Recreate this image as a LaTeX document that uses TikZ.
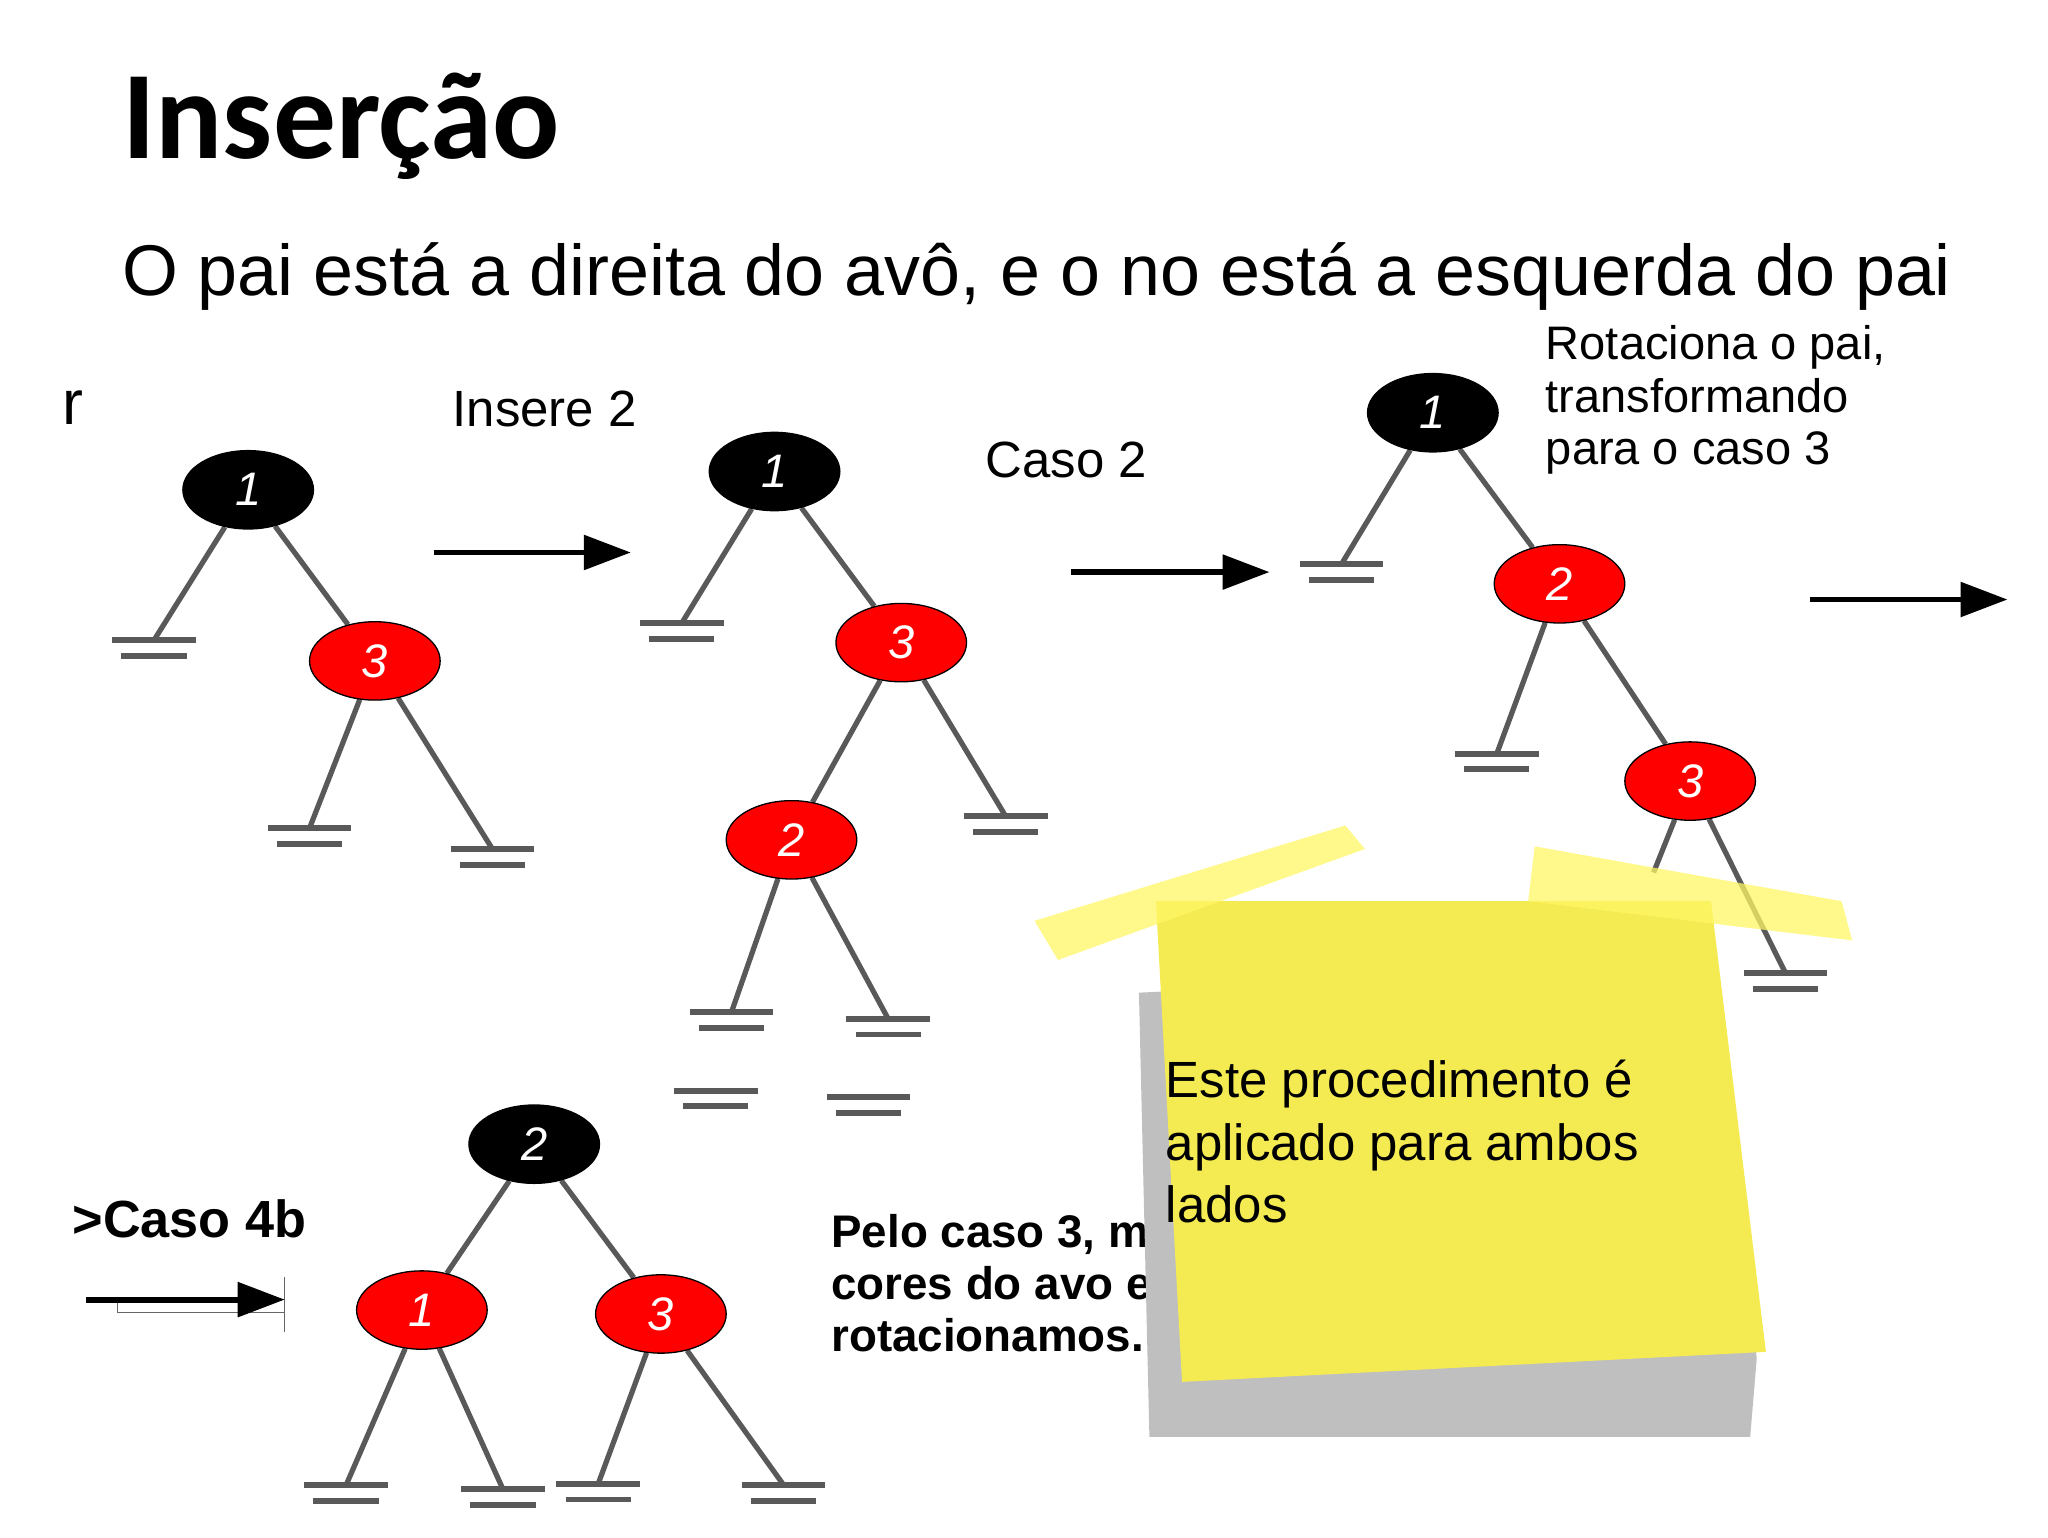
\documentclass[tikz,border=0pt]{standalone}
\usepackage{fontspec}
\setmainfont{Liberation Sans}
\newfontfamily\carl{Carlito}
\usetikzlibrary{shapes.geometric,arrows.meta,calc,backgrounds}
\tikzset{
 rb/.style={ellipse,draw=black,line width=1pt,minimum width=100pt,minimum height=60pt,inner sep=0pt,font=\fontsize{36}{36}\selectfont\itshape,text=white},
 blk/.style={rb,fill=black},
 red/.style={rb,fill=red},
 ed/.style={draw=black!65,line width=4pt},
 bar/.style={draw=black!65,line width=4.5pt},
 big/.style={line width=4.5pt,-{Triangle[length=36pt,width=26pt]}},
 lbl/.style={anchor=west,font=\fontsize{39}{40}\selectfont,align=left}
}
\newcommand{\gnd}[2]{\coordinate (#1) at #2;
 \draw[bar] ($(#1)+(-32,0)$) -- ($(#1)+(32,0)$);
 \draw[bar] ($(#1)+(-25,12)$) -- ($(#1)+(25,12)$);}
\begin{document}
\begin{tikzpicture}[x=1pt,y=-1pt]
\useasboundingbox (0,0) rectangle (1568,1177);
\node[anchor=west,font=\carl\bfseries\fontsize{96}{96}\selectfont] (t) at (90,97) {Inserção};
\node[anchor=west,font=\fontsize{55}{55}\selectfont] (st) at (90,212) {O pai está a direita do avô, e o no está a esquerda do pai};
\node[lbl,font=\fontsize{48}{48}\selectfont] (r) at (44,312) {r};
\node[lbl] (ins) at (343,313) {Insere 2};
\node[lbl] (c2) at (751,352) {Caso 2};
\node[lbl,anchor=north west,font=\fontsize{36}{40}\selectfont] (rot) at (1180,246) {Rotaciona o pai,\\transformando\\para o caso 3};
\node[lbl,font=\bfseries\fontsize{40}{40}\selectfont] (c4) at (52,933) {>Caso 4b};
\node[lbl,anchor=north west,font=\bfseries\fontsize{35}{40}\selectfont] (pelo) at (633,926) {Pelo caso 3, m\\cores do avo e\\rotacionamos.};
% nodes
\node[blk] (n11) at (190,375) {1}; \node[red] (n13) at (287,506) {3};
\node[blk] (n21) at (593,361) {1}; \node[red] (n23) at (690,492) {3}; \node[red] (n22) at (606,643) {2};
\node[blk] (n31) at (1097,316) {1}; \node[red] (n32) at (1194,447) {2}; \node[red] (n33) at (1294,598) {3};
\node[blk] (n42) at (409,876) {2}; \node[red] (n41) at (323,1003) {1}; \node[red] (n43) at (506,1006) {3};
\begin{scope}[on background layer]
% tree 1
\gnd{a1}{(118,490)} \gnd{a2}{(237,634)} \gnd{a3}{(377,650)}
\draw[ed] (n11) -- (a1); \draw[ed] (n11) -- (n13);
\draw[ed] (n13) -- (a2); \draw[ed] (n13) -- (a3);
% tree 2
\gnd{b1}{(522,477)} \gnd{b2}{(770,625)} \gnd{b3}{(560,775)} \gnd{b4}{(680,780)}
\gnd{b5}{(548,835)} \gnd{b6}{(665,840)}
\draw[ed] (n21) -- (b1); \draw[ed] (n21) -- (n23);
\draw[ed] (n23) -- (b2); \draw[ed] (n23) -- (n22);
\draw[ed] (n22) -- (b3); \draw[ed] (n22) -- (b4);
% tree 3
\gnd{c1}{(1027,432)} \gnd{c2}{(1146,577)} \gnd{c3}{(1367,745)}
\draw[ed] (n31) -- (c1); \draw[ed] (n31) -- (n32);
\draw[ed] (n32) -- (c2); \draw[ed] (n32) -- (n33);
\draw[ed] (n33) -- (c3);
% tree 4
\gnd{d1}{(265,1137)} \gnd{d2}{(385,1140)} \gnd{d3}{(458,1136)} \gnd{d4}{(600,1137)}
\draw[ed] (n42) -- (n41); \draw[ed] (n42) -- (n43);
\draw[ed] (n41) -- (d1); \draw[ed] (n41) -- (d2);
\draw[ed] (n43) -- (d3); \draw[ed] (n43) -- (d4);
\end{scope}
\coordinate (c3l) at (1266,668);
\draw[ed] (n33) -- (c3l);
% arrows
\coordinate (p1) at (332,423); \coordinate (q1) at (483,423);
\coordinate (p2) at (820,438); \coordinate (q2) at (972,438);
\coordinate (p3) at (1386,459); \coordinate (q3) at (1537,459);
\coordinate (p4) at (66,995); \coordinate (q4) at (218,995);
\draw[big] (p1) -- (q1); \draw[big] (p2) -- (q2); \draw[big] (p3) -- (q3);
\draw[black!60,line width=1pt] (90,995) rectangle (218,1005);
\draw[black!60,line width=1pt] (218,978) -- (218,1020);
\draw[big] (p4) -- (q4);
% sticky note
\fill[black!25] (872,760) -- (880,1100) -- (1340,1100) -- (1345,1040) -- (1310,740) -- cycle;
\fill[yellow!70!white!95!black] (885,690) -- (1310,690) -- (1352,1035) -- (905,1058) -- cycle;
\fill[yellow!60,opacity=0.75] (792,705) -- (1030,632) -- (1045,650) -- (810,735) -- cycle;
\fill[yellow!60,opacity=0.75] (1175,648) -- (1410,690) -- (1418,720) -- (1170,690) -- cycle;
\node[lbl,anchor=north west,font=\fontsize{39}{48}\selectfont] (note) at (889,808) {Este procedimento é\\aplicado para ambos\\lados};
\end{tikzpicture}
\end{document}
